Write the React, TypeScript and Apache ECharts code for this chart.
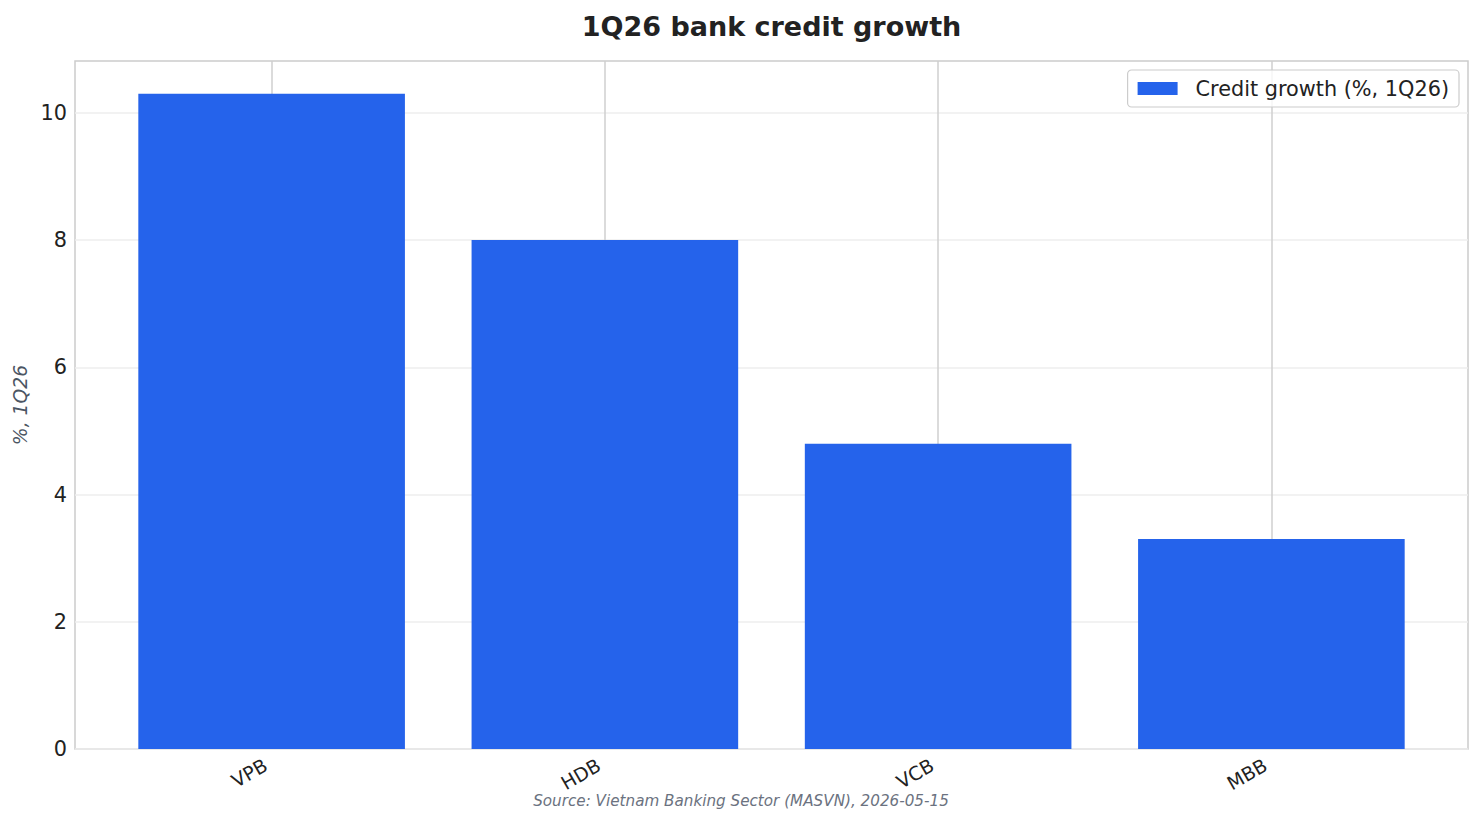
import React, { useEffect, useRef } from "react";
import * as echarts from "echarts";

const categories = ["VPB", "HDB", "VCB", "MBB"];
const creditGrowth = [10.3, 8.0, 4.8, 3.3];
const yTicks = [0, 2, 4, 6, 8, 10];
const seriesName = "Credit growth (%, 1Q26)";
const titleText = "1Q26 bank credit growth";
const sourceText = "Source: Vietnam Banking Sector (MASVN), 2026-05-15";
const yAxisName = "%, 1Q26";

const FONT = "DejaVu Sans";

export default function App() {
  const ref = useRef<HTMLDivElement>(null);

  useEffect(() => {
    if (!ref.current) return;
    const chart = echarts.init(ref.current, undefined, { renderer: "svg" });
    const xValues = categories.map((_, i) => i);
    chart.setOption({
      animation: false,
      backgroundColor: "#ffffff",
      textStyle: { fontFamily: FONT },
      grid: {
        left: 75,
        right: 16,
        top: 61,
        bottom: 75,
        show: true,
        borderColor: "#cccccc",
        borderWidth: 1.5,
        backgroundColor: "transparent",
        containLabel: false,
      },
      legend: {
        right: 25,
        top: 70,
        orient: "horizontal",
        icon: "rect",
        itemWidth: 40,
        itemHeight: 13,
        padding: [8, 10, 8, 10],
        borderColor: "#cccccc",
        borderWidth: 1.2,
        borderRadius: 4,
        backgroundColor: "rgba(255,255,255,0.8)",
        textStyle: {
          fontFamily: FONT,
          fontSize: 20.8,
          color: "#222222",
          padding: [1, 0, 0, 13],
        },
        data: [seriesName],
      },
      xAxis: {
        type: "value",
        min: -0.59,
        max: 3.59,
        axisLine: { show: false },
        axisTick: { show: false, customValues: xValues },
        axisLabel: {
          customValues: xValues,
          formatter: (v: number) => categories[Math.round(v)] ?? "",
          rotate: 30,
          fontFamily: FONT,
          fontSize: 19,
          color: "#222222",
          margin: 11,
          padding: [0, 7, 0, 0],
        },
        splitLine: {
          show: true,
          lineStyle: { color: "#cfcfcf", width: 1.5 },
        },
      },
      yAxis: {
        type: "value",
        min: 0,
        max: 10.815,
        axisLine: { show: false },
        axisTick: { show: false, customValues: yTicks },
        axisLabel: {
          customValues: yTicks,
          fontFamily: FONT,
          fontSize: 20.8,
          color: "#222222",
          margin: 8,
        },
        splitLine: {
          show: true,
          lineStyle: { color: "#eeeeee", width: 1.5 },
        },
        name: yAxisName,
        nameLocation: "middle",
        nameGap: 42,
        nameTextStyle: {
          fontFamily: FONT,
          fontSize: 18.75,
          fontStyle: "italic",
          color: "#4b5563",
        },
      },
      series: [
        {
          name: seriesName,
          type: "bar",
          barWidth: "80%",
          itemStyle: { color: "#2563eb" },
          data: categories.map((_, i) => [i, creditGrowth[i]]),
          z: 3,
        },
      ],
      graphic: [
        {
          type: "text",
          x: 771.5,
          y: 26.5,
          style: {
            text: titleText,
            fontFamily: FONT,
            fontSize: 27,
            fontWeight: "bold",
            fill: "#222222",
            textAlign: "center",
            textVerticalAlign: "middle",
          },
        },
        {
          type: "text",
          x: 741,
          y: 801,
          style: {
            text: sourceText,
            fontFamily: FONT,
            fontSize: 15.2,
            fontStyle: "italic",
            fill: "#6b7280",
            textAlign: "center",
            textVerticalAlign: "middle",
          },
        },
      ],
    });
    return () => chart.dispose();
  }, []);

  return (
    <div
      ref={ref}
      style={{ position: "fixed", left: 0, top: 0, width: 1484, height: 824 }}
    />
  );
}
